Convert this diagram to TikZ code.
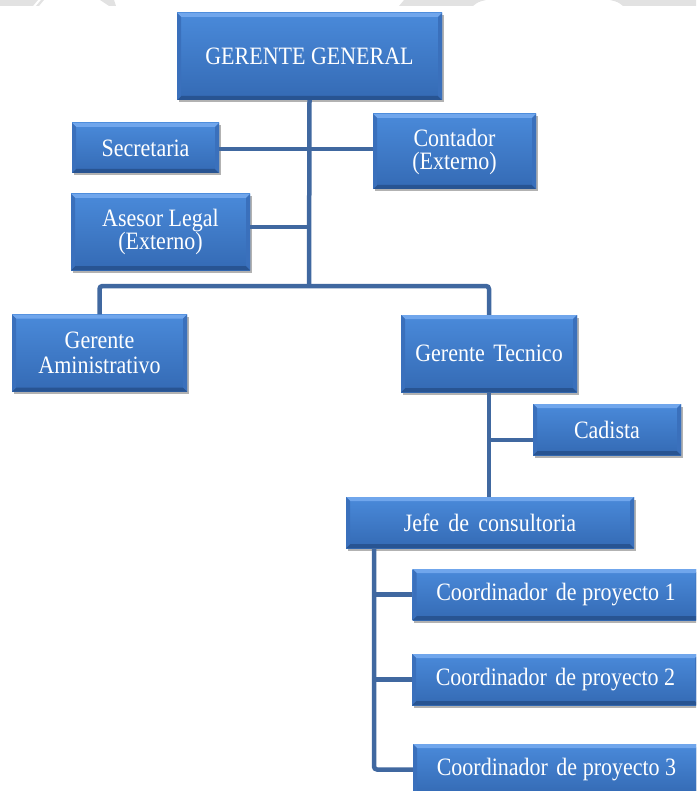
\documentclass[tikz,border=0pt]{standalone}
\usepackage{fontspec}
\setmainfont{Liberation Serif}[FakeStretch=0.88]
\usetikzlibrary{shadows}

\definecolor{conn}{RGB}{64,104,160}
\definecolor{boxtop}{RGB}{74,138,218}
\definecolor{boxbot}{RGB}{52,106,180}
\definecolor{bevtop}{RGB}{112,166,236}
\definecolor{bevbot}{RGB}{40,84,146}
\definecolor{bevside}{RGB}{58,112,188}
\definecolor{band}{RGB}{226,226,226}

\tikzset{
  x=1pt, y=-1pt,
  bevel/.style={path picture={
    \path (path picture bounding box.north west) coordinate (pnw)
          (path picture bounding box.north east) coordinate (pne)
          (path picture bounding box.south west) coordinate (psw)
          (path picture bounding box.south east) coordinate (pse);
    \fill[bevtop] (pnw) -- (pne) -- ([xshift=-4pt,yshift=-4pt]pne) -- ([xshift=4pt,yshift=-4pt]pnw) -- cycle;
    \fill[bevbot] (psw) -- (pse) -- ([xshift=-4pt,yshift=4pt]pse) -- ([xshift=4pt,yshift=4pt]psw) -- cycle;
    \fill[bevside] (pnw) -- ([xshift=4pt,yshift=-4pt]pnw) -- ([xshift=4pt,yshift=4pt]psw) -- (psw) -- cycle;
    \fill[bevside] (pne) -- ([xshift=-4pt,yshift=-4pt]pne) -- ([xshift=-4pt,yshift=4pt]pse) -- (pse) -- cycle;
  }},
  unit/.style 2 args={rectangle, inner sep=0pt, minimum width=#1pt, minimum height=#2pt,
    top color=boxtop, bottom color=boxbot, bevel,
    drop shadow={shadow xshift=1.5pt, shadow yshift=-2.5pt, fill=black, opacity=0.3},
    text=white, align=center, font=\fontsize{25}{23}\selectfont},
  link/.style={draw=conn, line width=4.5pt},
}

\begin{document}
\begin{tikzpicture}
\useasboundingbox (0,0) rectangle (696,791);
\clip (0,0) rectangle (696,791);

% light grey band along the top edge
\fill[band] (0,0) -- (38,0) -- (33,6) -- (0,6) -- cycle;
\fill[band] (41,0) -- (44,0) -- (39,6) -- (36,6) -- cycle;
\fill[band] (100,0) -- (114,0) -- (116,6) -- (109,6) -- cycle;
\fill[band] (399,6) -- (404,0) -- (486,0) .. controls (478,2) .. (473,6) -- cycle;
\fill[band] (610,0) -- (696,0) -- (696,6) -- (623,6) .. controls (618,2) .. (610,0) -- cycle;

% units
\node[unit={265}{87}] (gg) at (309.5,56.5) {GERENTE GENERAL};
\node[unit={147}{50}] (sec) at (145.5,148) {Secretaria};
\node[unit={179}{76}] (ase) at (160.5,232) {Asesor Legal\\(Externo)};
\node[unit={163}{75}] (con) at (454.5,151.5) {Contador\\(Externo)};
\node[unit={175}{77}, font=\fontsize{25}{25}\selectfont] (ga) at (99.5,353) {Gerente\\Aministrativo};
\node[unit={176}{77}] (gt) at (489,353.5) {Gerente\hspace{0.12em} Tecnico};
\node[unit={148}{51}] (cad) at (607,429.5) {Cadista};
\node[unit={288}{51}] (jefe) at (490,522.5) {Jefe\hspace{0.15em} de\hspace{0.15em} consultoria};
\node[unit={287}{51}] (c1) at (556,594.5) {Coordinador\hspace{0.12em} de proyecto 1};
\node[unit={287}{51}] (c2) at (555.5,679.5) {Coordinador\hspace{0.12em} de proyecto 2};
\node[unit={287}{51}] (c3) at (556.5,769.5) {Coordinador\hspace{0.12em} de proyecto 3};

% junction points
\coordinate (bar) at (309,286);
\coordinate (j1) at (309,149);
\coordinate (j2) at (309,227);
\coordinate (j3) at (490,440);
\coordinate (k) at (374,548);

% connectors
\draw[link] (gg.south) -- (bar);
\draw[link] (sec.east |- j1) -- (con.west |- j1);
\draw[link] (ase.east |- j2) -- (j2);
\draw[link, rounded corners=3pt] (ga.north) |- (bar) -| (gt.north);
\draw[link] (jefe.north -| gt.south) -- (gt.south);
\draw[link] (j3) -- (cad.west |- j3);
\draw[link, rounded corners=3pt] (k) |- (c3.west);
\draw[link] (k |- c1.west) -- (c1.west);
\draw[link] (k |- c2.west) -- (c2.west);
\end{tikzpicture}
\end{document}
